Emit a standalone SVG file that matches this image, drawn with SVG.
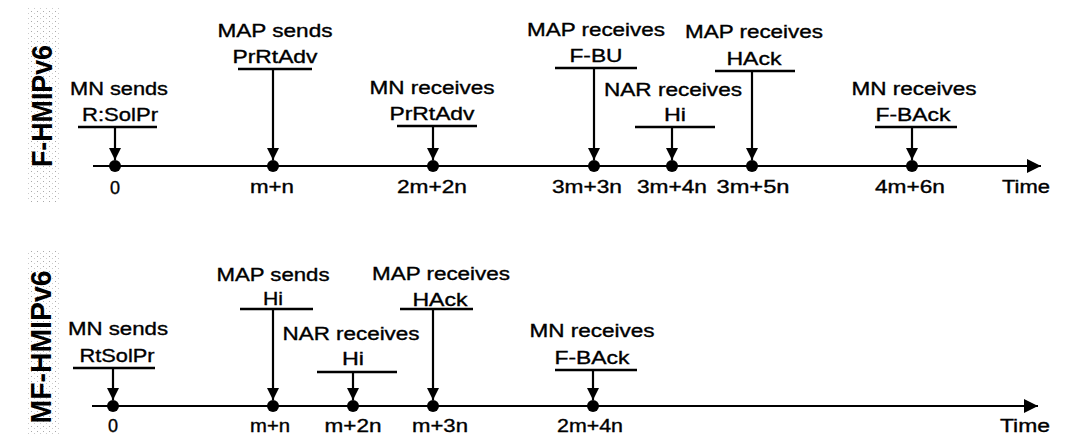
<svg xmlns="http://www.w3.org/2000/svg" width="1067" height="434" viewBox="0 0 1067 434">
<style>
text{font-family:"Liberation Sans",Arial,sans-serif;font-size:18px;fill:#000;stroke:#000;stroke-width:0.35}
.c{text-anchor:middle}
.v{font-size:30px;text-anchor:middle;font-weight:bold;stroke-width:0}
.ln{stroke:#000;stroke-width:2.2;fill:none}
.ul{stroke:#000;stroke-width:2.6}
.dot{fill:#000}
</style>
<defs>
<marker id="ah" viewBox="0 0 10 10" refX="10" refY="5" markerUnits="userSpaceOnUse" markerWidth="12" markerHeight="12" orient="auto"><path d="M0,0 L10,5 L0,10 z" fill="#000"/></marker>
<marker id="th" viewBox="0 0 10 10" refX="10" refY="5" markerUnits="userSpaceOnUse" markerWidth="16" markerHeight="14" orient="auto"><path d="M0,0 L10,5 L0,10 z" fill="#000"/></marker>
<pattern id="speck" width="6" height="5" patternUnits="userSpaceOnUse"><rect x="1" y="1" width="1" height="1" fill="#aaa"/><rect x="4" y="3" width="1" height="1" fill="#ccc"/></pattern>
</defs>
<rect width="1067" height="434" fill="#fff"/>

<g id="label-top">
<rect x="27" y="8" width="34" height="195" fill="url(#speck)"/>
<text class="v" transform="translate(52,106) rotate(-90)" textLength="122" lengthAdjust="spacingAndGlyphs">F-HMIPv6</text>
</g>
<g id="label-bottom">
<rect x="27" y="250" width="34" height="184" fill="url(#speck)"/>
<text class="v" transform="translate(51,347) rotate(-90)" textLength="153" lengthAdjust="spacingAndGlyphs">MF-HMIPv6</text>
</g>

<g id="connectors">
<line class="ln" x1="93" y1="166" x2="1041" y2="166" marker-end="url(#th)"/>
<line class="ln" x1="92" y1="406" x2="1038" y2="406" marker-end="url(#th)"/>
<line class="ln" x1="115" y1="127" x2="115" y2="160" marker-end="url(#ah)"/>
<line class="ln" x1="273" y1="69" x2="273" y2="160" marker-end="url(#ah)"/>
<line class="ln" x1="433" y1="126" x2="433" y2="160" marker-end="url(#ah)"/>
<line class="ln" x1="594" y1="68" x2="594" y2="160" marker-end="url(#ah)"/>
<line class="ln" x1="672" y1="127" x2="672" y2="160" marker-end="url(#ah)"/>
<line class="ln" x1="752" y1="71" x2="752" y2="160" marker-end="url(#ah)"/>
<line class="ln" x1="912" y1="127" x2="912" y2="160" marker-end="url(#ah)"/>
<line class="ln" x1="113" y1="368" x2="113" y2="400" marker-end="url(#ah)"/>
<line class="ln" x1="273" y1="309" x2="273" y2="400" marker-end="url(#ah)"/>
<line class="ln" x1="353" y1="372" x2="353" y2="400" marker-end="url(#ah)"/>
<line class="ln" x1="433" y1="309" x2="433" y2="400" marker-end="url(#ah)"/>
<line class="ln" x1="593" y1="370" x2="593" y2="400" marker-end="url(#ah)"/>
</g>

<g id="t0">
<text class="c" x="119" y="95" textLength="98" lengthAdjust="spacingAndGlyphs">MN sends</text>
<text class="c" x="120" y="121" textLength="76" lengthAdjust="spacingAndGlyphs">R:SolPr</text>
<line class="ul" x1="78" y1="127" x2="157" y2="127"/>
<circle class="dot" cx="115" cy="166" r="6"/>
<text class="c" x="115" y="194">0</text>
</g>
<g id="t1">
<text class="c" x="275" y="37" textLength="115" lengthAdjust="spacingAndGlyphs">MAP sends</text>
<text class="c" x="275" y="63" textLength="85" lengthAdjust="spacingAndGlyphs">PrRtAdv</text>
<line class="ul" x1="238" y1="69" x2="312" y2="69"/>
<circle class="dot" cx="273" cy="166" r="6"/>
<text class="c" x="272" y="193" textLength="44" lengthAdjust="spacingAndGlyphs">m+n</text>
</g>
<g id="t2">
<text class="c" x="432" y="94" textLength="125" lengthAdjust="spacingAndGlyphs">MN receives</text>
<text class="c" x="432" y="120" textLength="85" lengthAdjust="spacingAndGlyphs">PrRtAdv</text>
<line class="ul" x1="397" y1="126" x2="477" y2="126"/>
<circle class="dot" cx="433" cy="166" r="6"/>
<text class="c" x="432" y="193" textLength="70" lengthAdjust="spacingAndGlyphs">2m+2n</text>
</g>
<g id="t3">
<text class="c" x="596" y="36" textLength="138" lengthAdjust="spacingAndGlyphs">MAP receives</text>
<text class="c" x="596" y="62" textLength="53" lengthAdjust="spacingAndGlyphs">F-BU</text>
<line class="ul" x1="555" y1="68" x2="637" y2="68"/>
<circle class="dot" cx="594" cy="166" r="6"/>
<text class="c" x="587" y="193" textLength="70" lengthAdjust="spacingAndGlyphs">3m+3n</text>
</g>
<g id="t4">
<text class="c" x="673" y="96" textLength="138" lengthAdjust="spacingAndGlyphs">NAR receives</text>
<text class="c" x="675" y="121" textLength="22" lengthAdjust="spacingAndGlyphs">Hi</text>
<line class="ul" x1="635" y1="127" x2="715" y2="127"/>
<circle class="dot" cx="672" cy="166" r="6"/>
<text class="c" x="672" y="193" textLength="70" lengthAdjust="spacingAndGlyphs">3m+4n</text>
</g>
<g id="t5">
<text class="c" x="754" y="38" textLength="138" lengthAdjust="spacingAndGlyphs">MAP receives</text>
<text class="c" x="754" y="65" textLength="55" lengthAdjust="spacingAndGlyphs">HAck</text>
<line class="ul" x1="715" y1="71" x2="795" y2="71"/>
<circle class="dot" cx="752" cy="166" r="6"/>
<text class="c" x="753" y="193" textLength="73" lengthAdjust="spacingAndGlyphs">3m+5n</text>
</g>
<g id="t6">
<text class="c" x="914" y="95" textLength="125" lengthAdjust="spacingAndGlyphs">MN receives</text>
<text class="c" x="913" y="121" textLength="75" lengthAdjust="spacingAndGlyphs">F-BAck</text>
<line class="ul" x1="875" y1="127" x2="957" y2="127"/>
<circle class="dot" cx="912" cy="166" r="6"/>
<text class="c" x="910" y="193" textLength="70" lengthAdjust="spacingAndGlyphs">4m+6n</text>
</g>
<g id="time-top">
<text class="c" x="1026" y="193" textLength="48" lengthAdjust="spacingAndGlyphs">Time</text>
</g>

<g id="b0">
<text class="c" x="118" y="335" textLength="100" lengthAdjust="spacingAndGlyphs">MN sends</text>
<text class="c" x="117" y="362" textLength="75" lengthAdjust="spacingAndGlyphs">RtSolPr</text>
<line class="ul" x1="73" y1="368" x2="155" y2="368"/>
<circle class="dot" cx="113" cy="406" r="6"/>
<text class="c" x="113" y="432">0</text>
</g>
<g id="b1">
<text class="c" x="273" y="281" textLength="113" lengthAdjust="spacingAndGlyphs">MAP sends</text>
<text class="c" x="273" y="305" textLength="20" lengthAdjust="spacingAndGlyphs">Hi</text>
<line class="ul" x1="240" y1="309" x2="313" y2="309"/>
<circle class="dot" cx="273" cy="406" r="6"/>
<text class="c" x="270" y="432" textLength="40" lengthAdjust="spacingAndGlyphs">m+n</text>
</g>
<g id="b2">
<text class="c" x="351" y="340" textLength="137" lengthAdjust="spacingAndGlyphs">NAR receives</text>
<text class="c" x="353" y="365" textLength="22" lengthAdjust="spacingAndGlyphs">Hi</text>
<line class="ul" x1="317" y1="372" x2="397" y2="372"/>
<circle class="dot" cx="353" cy="406" r="6"/>
<text class="c" x="353" y="432" textLength="57" lengthAdjust="spacingAndGlyphs">m+2n</text>
</g>
<g id="b3">
<text class="c" x="441" y="280" textLength="138" lengthAdjust="spacingAndGlyphs">MAP receives</text>
<text class="c" x="440" y="306" textLength="55" lengthAdjust="spacingAndGlyphs">HAck</text>
<line class="ul" x1="400" y1="309" x2="473" y2="309"/>
<circle class="dot" cx="433" cy="406" r="6"/>
<text class="c" x="440" y="432" textLength="56" lengthAdjust="spacingAndGlyphs">m+3n</text>
</g>
<g id="b4">
<text class="c" x="592" y="337" textLength="125" lengthAdjust="spacingAndGlyphs">MN receives</text>
<text class="c" x="592" y="364" textLength="75" lengthAdjust="spacingAndGlyphs">F-BAck</text>
<line class="ul" x1="555" y1="370" x2="637" y2="370"/>
<circle class="dot" cx="593" cy="406" r="6"/>
<text class="c" x="590" y="432" textLength="66" lengthAdjust="spacingAndGlyphs">2m+4n</text>
</g>
<g id="time-bottom">
<text class="c" x="1025" y="432" textLength="50" lengthAdjust="spacingAndGlyphs">Time</text>
</g>
</svg>
